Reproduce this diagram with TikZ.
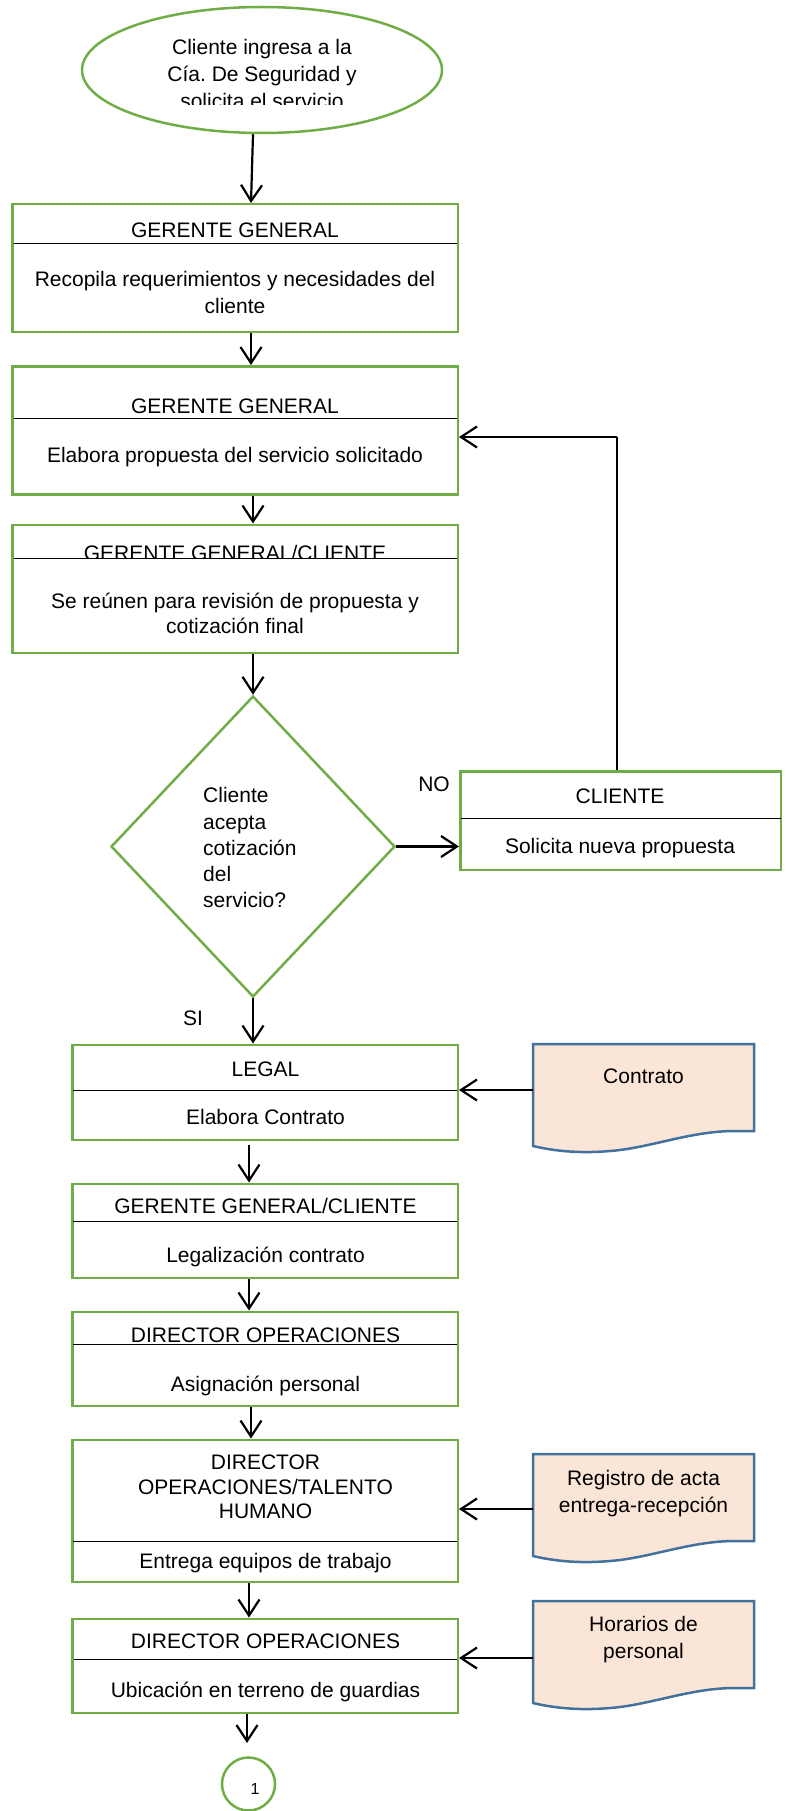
\documentclass[tikz,border=0pt]{standalone}
\usepackage{fontspec}
\setmainfont{Liberation Sans}
\usetikzlibrary{arrows.meta,shapes.geometric,calc}
\definecolor{pgreen}{RGB}{112,173,71}
\definecolor{dfill}{RGB}{251,229,214}
\definecolor{dblue}{RGB}{65,113,156}
\frenchspacing
\newcommand\docpath[1]{\path[docshape,shift={(0,#1)}] (533,0) -- (754,0) -- (754,87) -- (735,87) .. controls (690,87) and (650,104) .. (610,107) .. controls (575,110) and (550,106) .. (533,102) -- cycle;}
\newcommand\mytext[4]{\node[txt] (#1) at (#2,#3) {#4};}
\begin{document}
\begin{tikzpicture}[x=1pt,y=-1pt,
  pbox/.style={draw=pgreen,line width=2.5pt,rectangle,inner sep=0pt},
  txt/.style={font=\fontsize{21}{26}\selectfont,inner sep=0pt,anchor=base},
  arr/.style={draw=black,line width=2.2pt,-{Straight Barb[length=16pt,width=21pt]}},
  div/.style={draw=black,line width=1pt},
  docshape/.style={draw=dblue,fill=dfill,line width=2.5pt}]
\useasboundingbox (0,0) rectangle (785,1811);

% start ellipse
\node[draw=pgreen,line width=2.5pt,ellipse,minimum width=360pt,minimum height=126pt,inner sep=0pt] (E) at (262,70) {};
\begin{scope}
  \clip (0,0) rectangle (785,104.5);
  \mytext{e1}{262}{55}{Cliente ingresa a la}
  \mytext{e2}{262}{82}{Cía. De Seguridad y}
  \mytext{e3}{262}{109}{solicita el servicio}
\end{scope}

% B1
\node[pbox,minimum width=445.5pt,minimum height=127.5pt] (B1) at (235,268) {};
\draw[div] (13.5,244) -- (456.5,244);
\mytext{h1}{235}{238}{GERENTE GENERAL}
\mytext{b1a}{235}{287}{Recopila requerimientos y necesidades del}
\mytext{b1b}{235}{313}{cliente}

% B2
\node[pbox,minimum width=445.5pt,minimum height=128pt] (B2) at (235,430.25) {};
\draw[div] (13.5,418) -- (456.5,418);
\mytext{h2}{235}{413}{GERENTE GENERAL}
\mytext{b2a}{235}{462}{Elabora propuesta del servicio solicitado}

% B3
\node[pbox,minimum width=445.5pt,minimum height=128pt] (B3) at (235,588.75) {};
\begin{scope}
  \clip (0,0) rectangle (785,557.5);
  \mytext{h3}{235}{560}{GERENTE GENERAL/CLIENTE}
\end{scope}
\draw[div] (13.5,558) -- (456.5,558);
\mytext{b3a}{235}{608}{Se reúnen para revisión de propuesta y}
\mytext{b3b}{235}{633}{cotización final}

% decision
\node[draw=pgreen,line width=2.5pt,diamond,minimum width=284pt,minimum height=301pt,inner sep=0pt] (D) at (253,846.5) {};
\node[txt,anchor=base west] (d1) at (203,802) {Cliente};
\node[txt,anchor=base west] (d2) at (203,829) {acepta};
\node[txt,anchor=base west] (d3) at (203,855) {cotización};
\node[txt,anchor=base west] (d4) at (203,881) {del};
\node[txt,anchor=base west] (d5) at (203,907) {servicio?};
\mytext{no}{434}{791}{NO}
\mytext{si}{193}{1025}{SI}

% Cliente box
\node[pbox,minimum width=320.5pt,minimum height=98.5pt] (C) at (620.5,820.5) {};
\draw[div] (461,818) -- (780.5,818);
\mytext{hc}{620}{803}{CLIENTE}
\mytext{bc}{620}{853}{Solicita nueva propuesta}

% LEGAL
\node[pbox,minimum width=385.5pt,minimum height=95pt] (L) at (265,1092.25) {};
\draw[div] (73,1090) -- (457,1090);
\mytext{hl}{265.5}{1076}{LEGAL}
\mytext{bl}{265.5}{1124}{Elabora Contrato}

% GG/Cliente
\node[pbox,minimum width=385.5pt,minimum height=94pt] (G2) at (265,1230.75) {};
\draw[div] (73,1221) -- (457,1221);
\mytext{hg}{265.5}{1213}{GERENTE GENERAL/CLIENTE}
\mytext{bg}{265.5}{1262}{Legalización contrato}

% DO1
\node[pbox,minimum width=385.5pt,minimum height=94pt] (DO1) at (265,1358.75) {};
\draw[div] (73,1344) -- (457,1344);
\mytext{hd1}{265.5}{1342}{DIRECTOR OPERACIONES}
\mytext{bd1}{265.5}{1391}{Asignación personal}

% TH
\node[pbox,minimum width=385.5pt,minimum height=142pt] (TH) at (265,1510.75) {};
\draw[div] (73,1541) -- (457,1541);
\mytext{ht1}{265.5}{1469}{DIRECTOR}
\mytext{ht2}{265.5}{1494}{OPERACIONES/TALENTO}
\mytext{ht3}{265.5}{1518}{HUMANO}
\mytext{bt}{265.5}{1568}{Entrega equipos de trabajo}

% DO2
\node[pbox,minimum width=385.5pt,minimum height=94pt] (DO2) at (265,1665.75) {};
\draw[div] (74,1659) -- (457,1659);
\mytext{hd2}{265.5}{1648}{DIRECTOR OPERACIONES}
\mytext{bd2}{265.5}{1697}{Ubicación en terreno de guardias}

% connector circle
\begin{scope}
  \clip (0,0) rectangle (785,1811);
  \node[draw=pgreen,line width=2.5pt,circle,minimum size=53pt,inner sep=0pt] (K) at (248.5,1784) {};
\end{scope}
\node[font=\fontsize{16}{18}\selectfont,inner sep=0pt,anchor=base] (k1) at (255,1794) {1};

% documents
\docpath{1044}
\docpath{1454}
\docpath{1601}
\mytext{dc}{643.5}{1083}{Contrato}
\mytext{dr1}{643.5}{1485}{Registro de acta}
\mytext{dr2}{643.5}{1512}{entrega-recepción}
\mytext{dh1}{643.5}{1631}{Horarios de}
\mytext{dh2}{643.5}{1658}{personal}
\coordinate (dA) at (533,1090);
\coordinate (dB) at (533,1509);
\coordinate (dC) at (533,1658);

% connectors
\draw[arr] ([xshift=-9pt]E.south) -- ([xshift=16pt]B1.north);
\draw[arr] ([xshift=16pt]B1.south) -- ([xshift=16pt]B2.north);
\draw[arr] ([xshift=18pt]B2.south) -- ([xshift=18pt]B3.north);
\draw[arr] ([xshift=18pt]B3.south) -- (D.north);
\draw[arr] (D.east) -- (C.west |- D.east);
\coordinate (ret) at (617,437);
\draw[line width=1.3pt] (C.north -| ret) -- (ret);
\draw[arr] (ret) -- (B2.east |- ret);
\draw[arr] (D.south) -- ([xshift=-12pt]L.north);
\draw[arr] ([xshift=-16pt,yshift=-4pt]L.south) -- ([xshift=-16pt]G2.north);
\draw[arr] ([xshift=-16pt]G2.south) -- ([xshift=-16pt]DO1.north);
\draw[arr] ([xshift=-14pt]DO1.south) -- ([xshift=-14pt]TH.north);
\draw[arr] ([xshift=-16pt]TH.south) -- ([xshift=-16pt]DO2.north);
\draw[arr] ([xshift=-18pt]DO2.south) -- ([xshift=-18pt,yshift=-29pt]DO2.south);
\draw[arr] (dA) -- (dA -| L.east);
\draw[arr] (dB) -- (dB -| TH.east);
\draw[arr] (dC) -- (dC -| DO2.east);
\end{tikzpicture}
\end{document}
